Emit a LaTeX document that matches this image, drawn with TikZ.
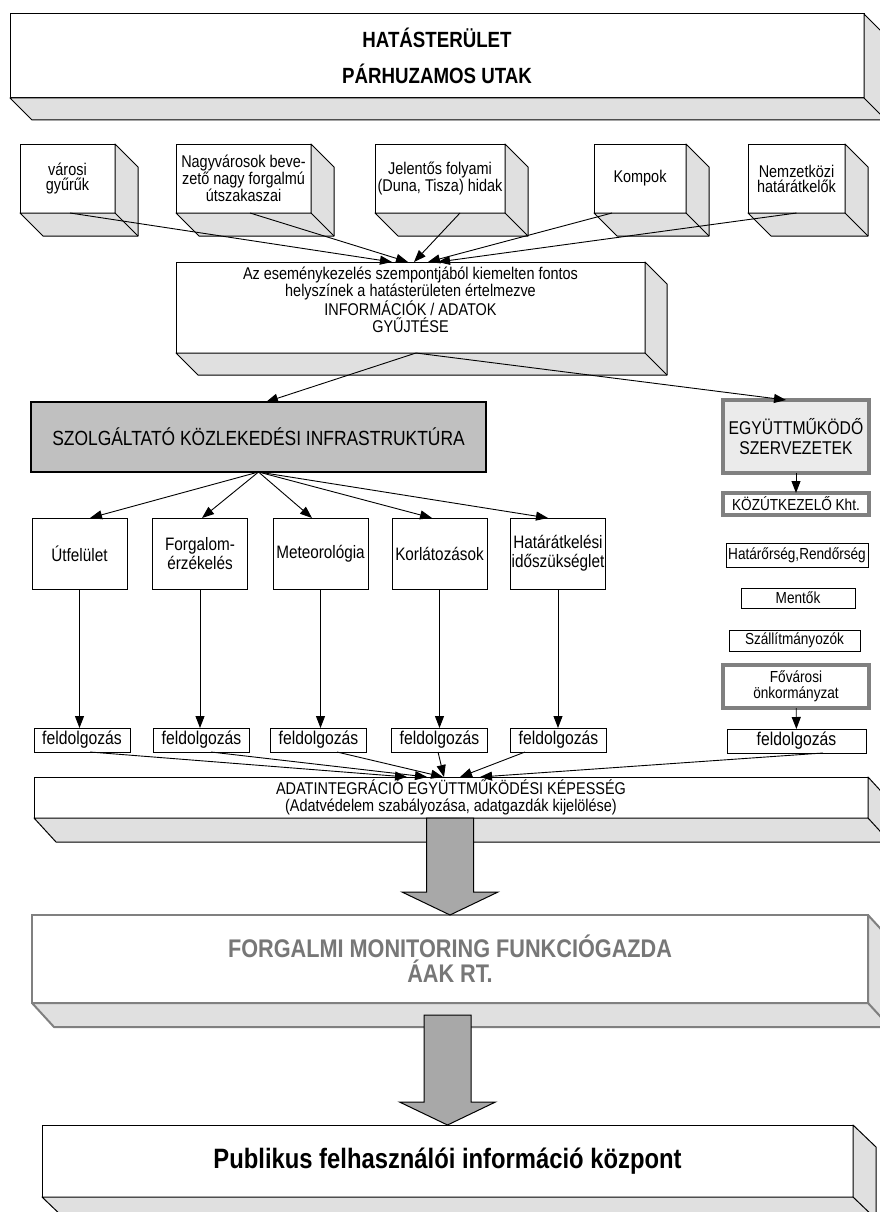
\documentclass[tikz,border=0pt]{standalone}
\usepackage{fontspec}
\setmainfont{Liberation Sans}[FakeStretch=0.85]
\usetikzlibrary{arrows.meta,calc}

\definecolor{facegray}{HTML}{E0E0E0}
\definecolor{arrowgray}{HTML}{A8A8A8}
\definecolor{infragray}{HTML}{C0C0C0}
\definecolor{palegray}{HTML}{EBEBEB}
\definecolor{framegray}{HTML}{808080}
\definecolor{textgray}{HTML}{777777}

\newcommand{\fsize}[2]{\fontsize{#1}{#2}\selectfont}

% 3d slab below and right of a box
\newcommand{\slab}[4][]{%
  \filldraw[slabface,#1] (#2.south west) -- ++(#3,#4) -- ([shift={(#3,#4)}]#2.south east)
    -- ([shift={(#3,#4)}]#2.north east) -- (#2.north east) -- (#2.south east) -- cycle;
  \draw[slabface,fill=none,#1] (#2.south east) -- ++(#3,#4);
}

% wide gray block arrow
\newcommand{\blockarrow}[2]{%
  \filldraw[bigarrow] let \p1=(#1), \p2=(#2) in
    (\x2-23.5pt,\y1) -- (\x2-23.5pt,\y2+23pt) -- (\x2-48pt,\y2+23pt) -- (\x2,\y2)
    -- (\x2+48pt,\y2+23pt) -- (\x2+23.5pt,\y2+23pt) -- (\x2+23.5pt,\y1) -- cycle;
}

\begin{document}
\begin{tikzpicture}[x=1pt, y=-1pt,
  box/.style={draw, line width=1pt, fill=white, inner sep=1pt, outer sep=0pt, align=center},
  graybox/.style={box, draw=framegray, line width=4pt},
  srcbox/.style={minimum height=69, font=\fsize{17}{15}},
  catbox/.style={minimum width=95, minimum height=71, font=\fsize{18}{19}},
  feldbox/.style={minimum width=96, minimum height=24, font=\fsize{18.5}{18}},
  slabface/.style={fill=facegray, draw=black, line width=1pt, line join=round},
  bigarrow/.style={fill=arrowgray, draw=black, line width=1pt},
  link/.style={line width=0.9pt, -{Triangle[length=12pt,width=9pt]}}]

\useasboundingbox (0,0) rectangle (880,1212);
\clip (0,0) rectangle (880,1212);

% top block
\node[box, minimum width=854, minimum height=84, font=\fsize{22}{36}\bfseries] (hatas) at (437,56) {HATÁSTERÜLET\\PÁRHUZAMOS UTAK};
\slab{hatas}{22}{22}

% locations
\node[box, srcbox, minimum width=95] (varosi) at (67.5,178.5) {városi\\gyűrűk};
\node[box, srcbox, minimum width=135] (nagyvaros) at (243.5,178.5) {Nagyvárosok beve-\\zető nagy forgalmú\\útszakaszai};
\node[box, srcbox, minimum width=130] (hidak) at (440,178.5) {Jelentős folyami\\(Duna, Tisza) hidak};
\node[box, srcbox, minimum width=92] (kompok) at (640,178.5) {Kompok};
\node[box, srcbox, minimum width=97] (hatarat) at (796.5,178.5) {Nemzetközi\\határátkelők};
\foreach \b in {varosi,nagyvaros,hidak,kompok,hatarat} {\slab{\b}{23}{23}}

% collecting block
\node[box, minimum width=469, minimum height=91] (esemeny) at (410.5,307.5) {};
\node[align=center, font=\fsize{17}{16.7}] (esemenytxt) at (410.5,300) {Az eseménykezelés szempontjából kiemelten fontos\\helyszínek a hatásterületen értelmezve\\INFORMÁCIÓK / ADATOK\\GYŰJTÉSE};
\slab{esemeny}{22}{22}

\draw[link] ([xshift=2.5]varosi.south) -- ([xshift=-18.5]esemeny.north);
\draw[link] ([xshift=6.5]nagyvaros.south) -- ([xshift=-2.5]esemeny.north);
\draw[link] ([xshift=20]hidak.south) -- ([xshift=3.5]esemeny.north);
\draw[link] ([xshift=-28]kompok.south) -- ([xshift=17.5]esemeny.north);
\draw[link] (hatarat.south) -- ([xshift=27.5]esemeny.north);

% infrastructure side
\node[box, fill=infragray, line width=1.6pt, minimum width=455, minimum height=70, font=\fsize{20.5}{20}] (infra) at (258.5,437) {SZOLGÁLTATÓ KÖZLEKEDÉSI INFRASTRUKTÚRA};

\node[box, catbox] (utfelulet) at (79.5,553.5) {Útfelület};
\node[box, catbox] (forgalom) at (200,553.5) {Forgalom-\\érzékelés};
\node[box, catbox] (meteo) at (320.5,553.5) {Meteorológia};
\node[box, catbox] (korlat) at (439.5,553.5) {Korlátozások};
\node[box, catbox] (hatarido) at (558,553.5) {Határátkelési\\időszükséglet};

\foreach \i/\x in {1/82,2/201.5,3/318.5,4/439.5,5/558.5}
  \node[box, feldbox] (feld\i) at (\x,740) {feldolgozás};

% partner organisations
\node[graybox, fill=palegray, minimum width=146, minimum height=73, font=\fsize{18.5}{20}] (egyutt) at (796,436.5) {EGYÜTTMŰKÖDŐ\\SZERVEZETEK};
\node[graybox, minimum width=146, minimum height=22, font=\fsize{16}{16}] (kozut) at (796,504) {KÖZÚTKEZELŐ Kht.};
\node[box, minimum width=142, minimum height=24, font=\fsize{16}{16}] (hatarorseg) at (797,555) {Határőrség,Rendőrség};
\node[box, minimum width=114, minimum height=20, font=\fsize{16}{16}] (mentok) at (798,598) {Mentők};
\node[box, minimum width=131, minimum height=21, font=\fsize{16}{16}] (szallit) at (794.5,640.5) {Szállítmányozók};
\node[graybox, minimum width=146, minimum height=43, font=\fsize{16}{16}] (fovarosi) at (796,686.5) {Fővárosi\\önkormányzat};
\node[box, feldbox, minimum width=139] (feld6) at (796.5,741) {feldolgozás};

\draw[link] ([xshift=5.5]esemeny.south) -- ([xshift=7.5]infra.north);
\draw[link] ([xshift=5.5]esemeny.south) -- ([xshift=-10]egyutt.north);

\draw[link] (infra.south) -- ([xshift=10.5]utfelulet.north);
\draw[link] (infra.south) -- ([xshift=2]forgalom.north);
\draw[link] (infra.south) -- ([xshift=-8.5]meteo.north);
\draw[link] (infra.south) -- ([xshift=-7.5]korlat.north);
\draw[link] (infra.south) -- ([xshift=-10]hatarido.north);

\foreach \c/\i in {utfelulet/1,forgalom/2,meteo/3,korlat/4,hatarido/5}
  \draw[link] (\c.south) -- (\c.south |- feld\i.north);

\draw[link] (egyutt) -- (kozut);
\draw[link] (fovarosi) -- (feld6);

% integration block
\node[box, minimum width=834, minimum height=41, font=\fsize{17}{17.5}] (adat) at (451,797.5) {ADATINTEGRÁCIÓ EGYÜTTMŰKÖDÉSI KÉPESSÉG\\(Adatvédelem szabályozása, adatgazdák kijelölése)};
\slab{adat}{22}{24}

\draw[link] ([xshift=8]feld1.south) -- ([xshift=-44]adat.north);
\draw[link] ([xshift=9.5]feld2.south) -- ([xshift=-24]adat.north);
\draw[link] ([xshift=18.5]feld3.south) -- ([xshift=-8]adat.north);
\draw[link] ([xshift=-1.5]feld4.south) -- ([xshift=-7]adat.north);
\draw[link] ([xshift=-33.5]feld5.south) -- ([xshift=9]adat.north);
\draw[link] ([xshift=26.5]feld6.south) -- ([xshift=29]adat.north);

% monitoring and public centre
\node[box, draw=framegray, line width=2.5pt, minimum width=836, minimum height=88, text=textgray, font=\fsize{25.5}{25}\bfseries] (monitoring) at (450,959) {FORGALMI MONITORING FUNKCIÓGAZDA\\ÁAK RT.};
\slab[draw=framegray, line width=2pt]{monitoring}{22}{24}

\node[box, minimum width=811, minimum height=72, font=\fsize{28}{28}\bfseries] (publikus) at (447.5,1161) {Publikus felhasználói információ központ};
\slab{publikus}{23}{22}

\blockarrow{adat.south}{monitoring.north}
\blockarrow{[yshift=-12pt]monitoring.south}{publikus.north}

\end{tikzpicture}
\end{document}
